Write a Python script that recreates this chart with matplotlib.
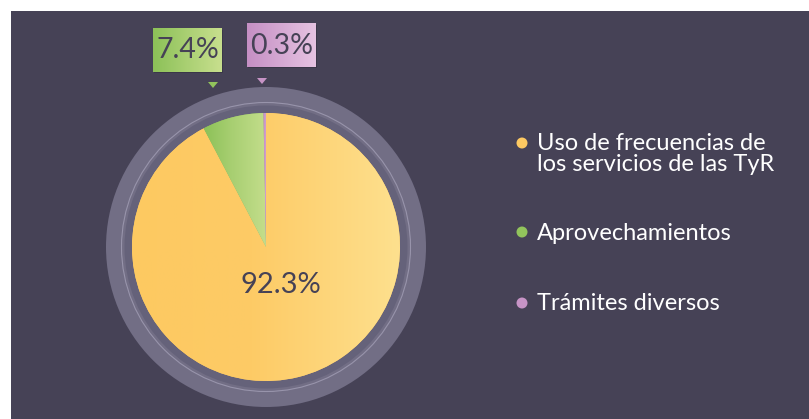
import numpy as np
import matplotlib
matplotlib.use("Agg")
import matplotlib.pyplot as plt
from matplotlib.patches import Rectangle, Circle, Polygon
from matplotlib.colors import LinearSegmentedColormap

plt.rcParams['font.family'] = ['Lato', 'DejaVu Sans']

# data
categories = ['Uso de frecuencias de\nlos servicios de las TyR', 'Aprovechamientos', 'Trámites diversos']
values = [92.3, 7.4, 0.3]
labels = ['92.3%', '7.4%', '0.3%']
colors = ['#fdc962', '#92c45c', '#c794c6']
grad_colors = [('#fdc961', '#fdcb66', '#fee08e'), ('#8cc158', '#a8cf72', '#c4de8c'),
               ('#c48fc3', '#c996c8', '#cf9fcf')]
box_grad = [None, ('#8cc158', '#c8df8e'), ('#c58fc4', '#e6c3e2')]

bg = '#464256'
text_dark = '#464256'

W, H = 809, 419
fig = plt.figure(figsize=(W / 100, H / 100), dpi=100)
ax = fig.add_axes([0, 0, 1, 1])
ax.axis('off')
fig.patch.set_facecolor('white')

# dark panel (white margin top and left)
ax.add_patch(Rectangle((11, 0), W - 11, H - 11, facecolor=bg, edgecolor='none', zorder=0))

cx, cy = 266, H - 247
r_pie, r_line, r_ring = 134, 144.5, 160

# outer ring
ax.add_patch(Circle((cx, cy), r_ring, facecolor='#726e85', edgecolor='none', zorder=1))
ax.add_patch(Circle((cx, cy), r_line - 3, facecolor='#65627a', edgecolor='none', zorder=1))
ax.add_patch(Circle((cx, cy), r_line, facecolor='none', edgecolor='#9894ab', lw=0.8, zorder=2))

wedges, _ = ax.pie(values, colors=colors, startangle=90, counterclock=False,
                   center=(cx, cy), radius=r_pie, frame=True,
                   wedgeprops=dict(linewidth=0, zorder=3))
ax.set_xlim(0, W)
ax.set_ylim(0, H)
ax.set_aspect('equal')
ax.axis('off')

# horizontal gradients clipped to each wedge
for w, stops in zip(wedges, grad_colors):
    bb = w.get_path().get_extents(w.get_transform() + ax.transData.inverted())
    cmap = LinearSegmentedColormap.from_list('g', list(zip([0, 0.45, 1], stops)))
    grad = np.linspace(0, 1, 256).reshape(1, -1)
    im = ax.imshow(grad, cmap=cmap, aspect='auto', extent=(bb.x0, bb.x1, bb.y0, bb.y1),
                   zorder=4, interpolation='bilinear')
    im.set_clip_path(w)

# center label
ax.text(281, H - 285, labels[0], ha='center', va='center', fontsize=21, color=text_dark, zorder=6)

# callout boxes
boxes = [None, (153, 222, 29, 72, 213, 82), (247, 316, 24, 67, 262, 78)]
for i in (1, 2):
    x0, x1, yt, yb, tx, ty = boxes[i]
    c0, c1 = box_grad[i]
    ax.add_patch(Rectangle((x0 + 1.5, H - yb - 1.5), x1 - x0, yb - yt, facecolor='#3a3748',
                           edgecolor='none', zorder=5))
    cmap = LinearSegmentedColormap.from_list('b', [c0, c1])
    grad = np.linspace(0, 1, 256).reshape(1, -1)
    ax.imshow(grad, cmap=cmap, aspect='auto', extent=(x0, x1, H - yb, H - yt), zorder=6)
    ax.text((x0 + x1) / 2, H - (yt + yb) / 2, labels[i], ha='center', va='center',
            fontsize=20.5, color=text_dark, zorder=7)
    ax.add_patch(Polygon([(tx - 5, H - ty), (tx + 5, H - ty), (tx, H - ty - 6)],
                         closed=True, facecolor=colors[i], edgecolor='none', zorder=6))

# legend
legend_y = [143, 232, 303]
text_y = [154, 233, 303]
for cat, col, dy, ty in zip(categories, colors, legend_y, text_y):
    ax.add_patch(Circle((522, H - dy), 5.5, facecolor=col, edgecolor='none', zorder=6))
    ax.text(537, H - ty, cat, ha='left', va='center', fontsize=17, color='white',
            linespacing=1.05, zorder=6)

ax.set_xlim(0, W)
ax.set_ylim(0, H)
fig.savefig('out.png', dpi=100, facecolor='white')
